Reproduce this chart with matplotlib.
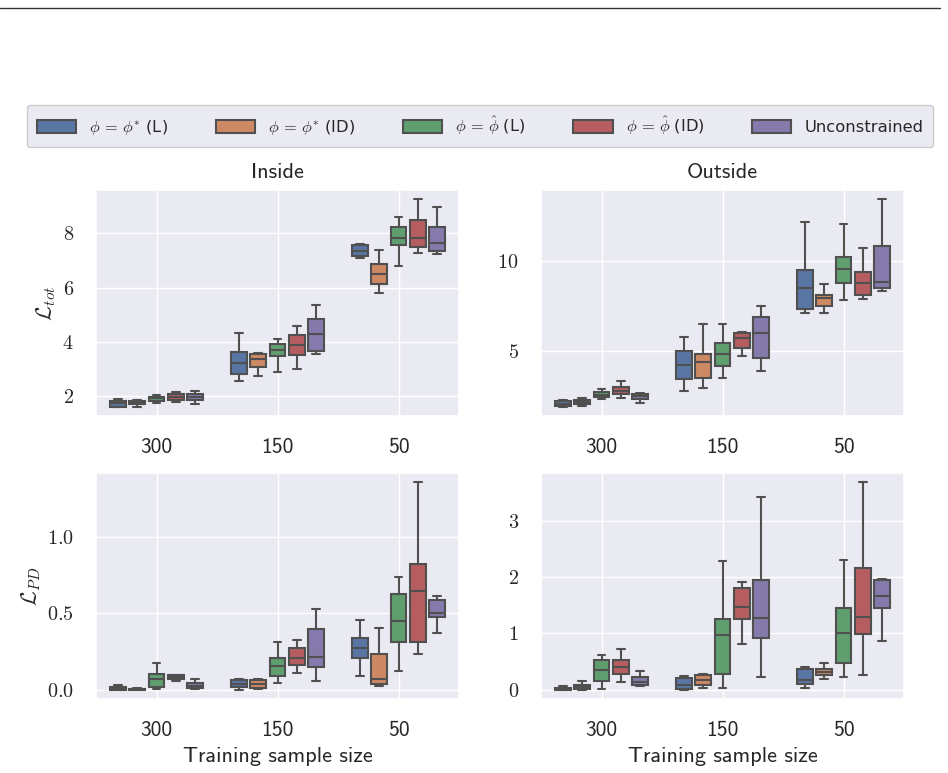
import matplotlib
matplotlib.use("Agg")
import matplotlib.pyplot as plt
import seaborn as sns
from matplotlib.patches import Patch
from matplotlib.lines import Line2D

# x categories and hue labels
sizes = ["300", "150", "50"]
methods = [r"$\phi \,=\, \phi^{*}$ (L)", r"$\phi \,=\, \phi^{*}$ (ID)",
           r"$\phi \,=\, \hat{\phi}$ (L)", r"$\phi \,=\, \hat{\phi}$ (ID)",
           "Unconstrained"]

# box stats: [size][method] = (whislo, q1, med, q3, whishi)
tot_inside = [
    [(1.58, 1.60, 1.73, 1.83, 1.87), (1.60, 1.70, 1.78, 1.81, 1.85),
     (1.75, 1.83, 1.91, 1.97, 2.05), (1.78, 1.85, 1.96, 2.06, 2.15),
     (1.70, 1.85, 1.97, 2.06, 2.19)],
    [(2.56, 2.80, 3.20, 3.63, 4.33), (2.74, 3.08, 3.36, 3.55, 3.60),
     (2.87, 3.47, 3.68, 3.90, 4.10), (2.98, 3.53, 3.89, 4.24, 4.59),
     (3.56, 3.67, 4.30, 4.84, 5.34)],
    [(7.08, 7.15, 7.36, 7.56, 7.59), (5.79, 6.15, 6.50, 6.88, 7.40),
     (6.79, 7.58, 7.84, 8.23, 8.59), (7.26, 7.51, 7.84, 8.49, 9.27),
     (7.24, 7.36, 7.63, 8.22, 8.98)],
]
tot_outside = [
    [(1.86, 1.93, 2.06, 2.19, 2.27), (1.95, 2.03, 2.16, 2.27, 2.38),
     (2.30, 2.42, 2.57, 2.73, 2.86), (2.40, 2.60, 2.79, 2.97, 3.33),
     (2.10, 2.34, 2.49, 2.62, 2.68)],
    [(2.77, 3.46, 4.24, 5.00, 5.80), (2.96, 3.49, 4.39, 4.81, 6.52),
     (3.48, 4.16, 4.85, 5.46, 6.52), (4.72, 5.19, 5.71, 5.99, 6.04),
     (3.88, 4.61, 6.02, 6.91, 7.49)],
    [(7.14, 7.32, 8.53, 9.50, 12.19), (7.10, 7.53, 7.95, 8.10, 8.72),
     (7.86, 8.76, 9.54, 10.24, 12.05), (7.88, 8.10, 8.79, 9.40, 10.74),
     (8.33, 8.53, 8.85, 10.87, 13.46)],
]
pd_inside = [
    [(0.000, 0.003, 0.012, 0.022, 0.032), (0.000, 0.002, 0.005, 0.008, 0.012),
     (0.007, 0.024, 0.072, 0.107, 0.180), (0.063, 0.070, 0.085, 0.096, 0.098),
     (0.009, 0.013, 0.030, 0.046, 0.076)],
    [(0.004, 0.020, 0.043, 0.065, 0.072), (0.009, 0.013, 0.043, 0.067, 0.072),
     (0.046, 0.093, 0.159, 0.211, 0.315), (0.109, 0.167, 0.211, 0.272, 0.328),
     (0.063, 0.150, 0.215, 0.396, 0.526)],
    [(0.091, 0.213, 0.272, 0.343, 0.454), (0.026, 0.041, 0.070, 0.235, 0.407),
     (0.124, 0.317, 0.450, 0.626, 0.737), (0.233, 0.317, 0.643, 0.824, 1.357),
     (0.372, 0.478, 0.502, 0.589, 0.611)],
]
pd_outside = [
    [(-0.01, 0.000, 0.012, 0.030, 0.060), (0.000, 0.006, 0.054, 0.083, 0.155),
     (0.018, 0.161, 0.357, 0.524, 0.625), (0.131, 0.280, 0.405, 0.536, 0.726),
     (0.060, 0.077, 0.137, 0.220, 0.327)],
    [(0.000, 0.018, 0.089, 0.202, 0.250), (0.030, 0.077, 0.173, 0.262, 0.280),
     (0.024, 0.286, 0.964, 1.256, 2.298), (0.804, 1.250, 1.476, 1.810, 1.917),
     (0.226, 0.923, 1.280, 1.958, 3.435)],
    [(0.036, 0.095, 0.173, 0.363, 0.411), (0.196, 0.256, 0.321, 0.363, 0.476),
     (0.232, 0.470, 1.012, 1.452, 2.304), (0.268, 0.988, 1.286, 2.167, 3.696),
     (0.863, 1.458, 1.673, 1.952, 1.970)],
]

sns.set_theme(style="darkgrid")
plt.rcParams['font.family'] = ['cmss10', 'DejaVu Sans']
plt.rcParams['mathtext.fontset'] = 'cm'
plt.rcParams['axes.unicode_minus'] = False

colors = [sns.desaturate(c, 0.75) for c in sns.color_palette("deep", 5)]
line_color = "#505050"
offsets = [-0.32, -0.16, 0.0, 0.16, 0.32]


def draw_panel(ax, stats, yticks, fmt, ylim):
    """Draws one grid of grouped box plots from precomputed stats."""
    for h in range(len(methods)):
        boxes = []
        for g in range(len(sizes)):
            lo, q1, med, q3, hi = stats[g][h]
            boxes.append(dict(whislo=lo, q1=q1, med=med, q3=q3, whishi=hi))
        ax.bxp(boxes, positions=[g + offsets[h] for g in range(len(sizes))],
               widths=0.13, patch_artist=True, showfliers=False,
               boxprops=dict(facecolor=colors[h], edgecolor=line_color, linewidth=1.5),
               medianprops=dict(color=line_color, linewidth=1.5),
               whiskerprops=dict(color=line_color, linewidth=1.5),
               capprops=dict(color=line_color, linewidth=1.5))
    ax.set_xlim(-0.5, 2.5)
    ax.set_xticks(range(len(sizes)))
    ax.set_xticklabels(sizes)
    ax.set_yticks(yticks)
    ax.set_yticklabels(["$" + fmt.format(t) + "$" for t in yticks])
    ax.set_ylim(*ylim)
    ax.tick_params(axis='x', labelsize=15.5, pad=10)
    ax.tick_params(axis='y', labelsize=14.5, pad=10)


fig = plt.figure(figsize=(9.48, 7.73), dpi=100)

left_x, right_x, w = 0.1013, 0.5707, 0.3829
top_y, bot_y, h = 0.4618, 0.0957, 0.2924

ax_tl = fig.add_axes([left_x, top_y, w, h])
ax_tr = fig.add_axes([right_x, top_y, w, h])
ax_bl = fig.add_axes([left_x, bot_y, w, h])
ax_br = fig.add_axes([right_x, bot_y, w, h])

draw_panel(ax_tl, tot_inside, [2, 4, 6, 8], "{:g}", (1.26, 9.6))
draw_panel(ax_tr, tot_outside, [5, 10], "{:g}", (1.38, 13.96))
draw_panel(ax_bl, pd_inside, [0.0, 0.5, 1.0], "{:.1f}", (-0.057, 1.413))
draw_panel(ax_br, pd_outside, [0, 1, 2, 3], "{:g}", (-0.167, 3.857))

ax_tl.set_title("Inside", fontsize=16, pad=9)
ax_tr.set_title("Outside", fontsize=16, pad=9)
ax_tl.set_ylabel(r"$\mathcal{L}_{tot}$", fontsize=15.5, labelpad=3)
ax_bl.set_ylabel(r"$\mathcal{L}_{PD}$", fontsize=15.5, labelpad=3)
ax_bl.set_xlabel("Training sample size", fontsize=16, labelpad=5)
ax_br.set_xlabel("Training sample size", fontsize=16, labelpad=5)

handles = [Patch(facecolor=c, edgecolor=line_color, linewidth=1.5) for c in colors]
fig.legend(handles, methods, loc='center', bbox_to_anchor=(480 / 948, 1 - 126 / 773),
           ncol=5, prop=dict(family='DejaVu Sans', size=11.8),
           handlelength=2.4, handleheight=0.9, handletextpad=0.8,
           columnspacing=2.9, borderpad=0.6, frameon=True,
           facecolor="#EAEAF2", edgecolor="#cccccc", framealpha=1.0)

fig.add_artist(Line2D([0, 940 / 948], [1 - 8 / 773, 1 - 8 / 773],
                      transform=fig.transFigure, color="#333333", linewidth=1.0))

fig.savefig("out.png", dpi=100)
